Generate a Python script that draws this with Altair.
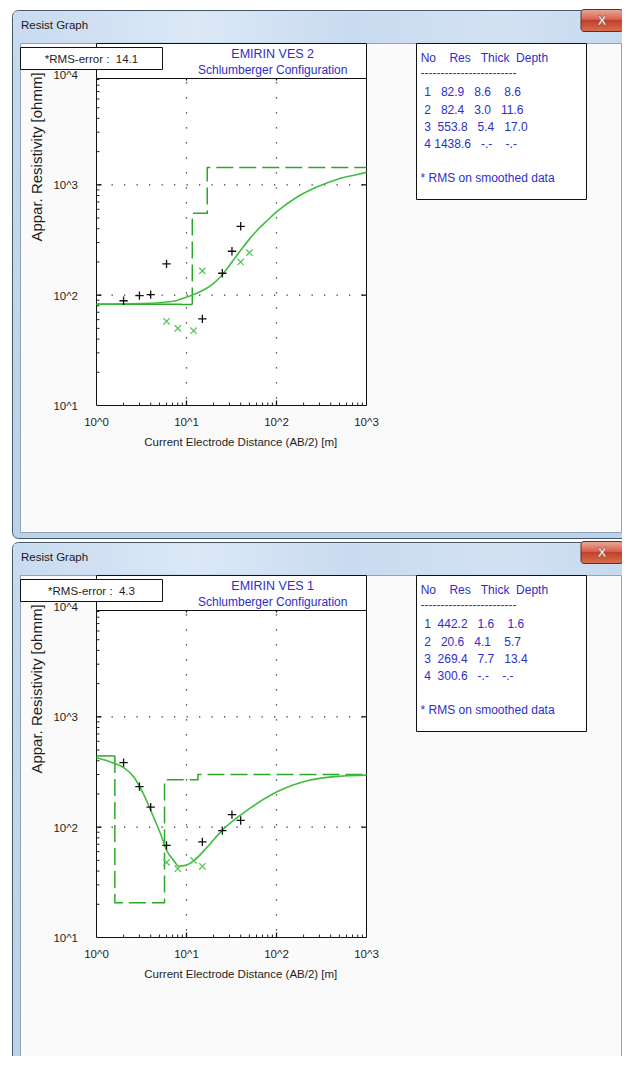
import math
import altair as alt
import pandas as pd

FONT = "Liberation Sans"
TXT = "#1e1e1e"
BLUE = "#2e2ec8"
GREEN_STEP = "#2aa82a"
GREEN_FIT = "#3fbd3f"
GREEN_X = "#55c955"
NB = "\u00a0"

# ---------------- data ----------------
window_title = "Resist Graph"
config_name = "Schlumberger Configuration"
x_title = "Current Electrode Distance (AB/2) [m]"
y_title = "Appar. Resistivity [ohmm]"
rms_note = "* RMS on smoothed data"
table_header = "No    Res   Thick  Depth"

x_ticks = [1, 10, 100, 1000]
x_tick_labels = ["10^0", "10^1", "10^2", "10^3"]
y_ticks = [10, 100, 1000, 10000]
y_tick_labels = ["10^1", "10^2", "10^3", "10^4"]

# EMIRIN VES 2 (upper window)
ves2_name = "EMIRIN VES 2"
ves2_rms = "14.1"
ves2_res = [82.9, 82.4, 553.8, 1438.6]
ves2_thick = [8.6, 3.0, 5.4]
ves2_depth = [8.6, 11.6, 17.0]
ves2_obs_ab2 = [2, 3, 4, 6, 15, 25, 32, 40]
ves2_obs_rho = [89, 99, 101, 192, 61, 158, 250, 421]
ves2_smooth_ab2 = [6, 8, 12, 15, 40, 50]
ves2_smooth_rho = [58, 50, 47.6, 166, 200, 243]
ves2_fit_ab2 = [1, 3, 5, 8, 10, 13, 16, 20, 25, 32, 40, 50, 63, 80, 100, 130, 170, 280, 460, 770, 1000]
ves2_fit_rho = [83, 84, 85.5, 90, 96, 104, 113, 128, 153, 200, 255, 322, 398, 480, 570, 670, 776, 955, 1114, 1236, 1297]

# EMIRIN VES 1 (lower window)
ves1_name = "EMIRIN VES 1"
ves1_rms = "4.3"
ves1_res = [442.2, 20.6, 269.4, 300.6]
ves1_thick = [1.6, 4.1, 7.7]
ves1_depth = [1.6, 5.7, 13.4]
ves1_obs_ab2 = [2, 3, 4, 6, 15, 25, 32, 40]
ves1_obs_rho = [385, 233, 152, 68.4, 73.5, 93, 130, 115]
ves1_smooth_ab2 = [6, 8, 12, 15]
ves1_smooth_rho = [48, 42, 50, 44.2]
ves1_fit_ab2 = [1, 1.43, 2, 2.6, 3.3, 4.3, 5.3, 6, 7.2, 8.2, 10, 12, 17, 25, 50, 100, 230, 550, 1000]
ves1_fit_rho = [425, 390, 347, 285, 202, 124, 82, 62, 50, 44.3, 45.3, 49.5, 66, 94, 147, 208, 266, 291, 296]

x_minor = [m * 10 ** k for k in range(0, 3) for m in range(2, 10)]
y_minor = [m * 10 ** k for k in range(1, 4) for m in range(2, 10)]

# ---------------- helpers ----------------
dummy = pd.DataFrame({"d": [0]})


def P(v):
    return v - 8  # page pixel -> chart pixel


def nb(s):
    return s.replace(" ", NB)


def box(x1, y1, x2, y2, fill, stroke=None, sw=1.0, radius=0):
    kw = dict(fill=fill, cornerRadius=radius)
    if stroke:
        kw["stroke"] = stroke
        kw["strokeWidth"] = sw
    else:
        kw["strokeWidth"] = 0
    return alt.Chart(dummy).mark_rect(**kw).encode(
        x=alt.value(P(x1)), x2=alt.value(P(x2)), y=alt.value(P(y1)), y2=alt.value(P(y2))
    )


def txt(x, y, s, size=12, color=TXT, align="left", baseline="middle", angle=0,
        weight="normal", lh=None):
    kw = dict(text=s, fontSize=size, color=color, align=align, baseline=baseline,
              font=FONT, fontWeight=weight)
    if angle:
        kw["angle"] = angle
    if lh:
        kw["lineHeight"] = lh
    return alt.Chart(dummy).mark_text(**kw).encode(x=alt.value(P(x)), y=alt.value(P(y)))


def grad(stops, vertical=True):
    return alt.LinearGradient(
        gradient="linear",
        stops=[alt.GradientStop(offset=o, color=c) for o, c in stops],
        x1=0, y1=0, x2=0 if vertical else 1, y2=1 if vertical else 0,
    )


def step_points(res, depth):
    xs_, ys_ = [], []
    x0 = 1
    for r, x1 in zip(res, depth + [1000]):
        xs_ += [x0, x1]
        ys_ += [r, r]
        x0 = x1
    return xs_, ys_


def window(off, name, rms, res, thick, depth, obs_x, obs_y, sm_x, sm_y, fit_x, fit_y):
    L, R, B, T = 96.5, 366.5, 405.5 + off, 74.5 + off
    xs = alt.Scale(type="log", domain=[1, 1000], range=[P(L), P(R)], nice=False)
    ys = alt.Scale(type="log", domain=[10, 10000], range=[P(B), P(T)], nice=False)

    def X(f):
        return alt.X(f"{f}:Q", scale=xs, axis=None)

    def Y(f):
        return alt.Y(f"{f}:Q", scale=ys, axis=None)

    layers = []
    # ---- window chrome ----
    layers.append(box(12.5, 10.5 + off, 628.5, 538.5 + off,
                      grad([(0, "#d3e2f3"), (0.08, "#c6d9ef"), (1, "#bcd1ea")]),
                      stroke="#46566a", radius=6))
    layers.append(box(14, 12 + off, 627, 42 + off,
                      grad([(0, "#c8dbf0"), (0.3, "#dce8f6"), (0.55, "#c9dbf0"),
                            (0.8, "#d3e2f3"), (1, "#c6d9ef")], vertical=False)))
    layers.append(box(20.5, 43.5 + off, 621.5, 532.5 + off, "#fafafa", stroke="#8fa3b9"))
    layers.append(box(581, 9.5 + off, 623, 31.5 + off,
                      grad([(0, "#eaa999"), (0.45, "#d5634f"), (0.5, "#c2402a"), (1, "#d8704f")]),
                      stroke="#6b2a20", radius=3))
    layers.append(alt.Chart(dummy).mark_text(
        text="X", fontSize=13, font=FONT, fontWeight="bold", color="white",
        stroke="#7a3025", strokeWidth=0.4, align="center", baseline="middle"
    ).encode(x=alt.value(P(602)), y=alt.value(P(20.5 + off))))
    layers.append(txt(21, 26 + off, window_title, size=11.5, color="#1a1a1a"))

    # ---- plot area ----
    layers.append(box(L, T, R, B, "white"))
    gx = pd.DataFrame({"g": [10, 100]})
    gy = pd.DataFrame({"g": [100, 1000]})
    layers.append(alt.Chart(gx).mark_rule(color="#333333", strokeWidth=1.3,
                                          strokeDash=[1.3, 13.7], strokeDashOffset=7.3).encode(
        x=X("g"), y=alt.value(P(T)), y2=alt.value(P(B))))
    layers.append(alt.Chart(gy).mark_rule(color="#333333", strokeWidth=1.3,
                                          strokeDash=[1.3, 11.2], strokeDashOffset=10).encode(
        y=Y("g"), x=alt.value(P(L)), x2=alt.value(P(R))))
    # ticks
    ymaj = pd.DataFrame({"t": [100, 1000]})
    xmaj = pd.DataFrame({"t": [10, 100]})
    layers.append(alt.Chart(pd.DataFrame({"t": y_minor})).mark_rule(color="#222", strokeWidth=1).encode(
        y=Y("t"), x=alt.value(P(L)), x2=alt.value(P(L + 3))))
    layers.append(alt.Chart(pd.DataFrame({"t": x_minor})).mark_rule(color="#222", strokeWidth=1).encode(
        x=X("t"), y=alt.value(P(B)), y2=alt.value(P(B - 3))))
    layers.append(alt.Chart(ymaj).mark_rule(color="#111", strokeWidth=1.3).encode(
        y=Y("t"), x=alt.value(P(L)), x2=alt.value(P(L + 5))))
    layers.append(alt.Chart(ymaj).mark_rule(color="#111", strokeWidth=1.3).encode(
        y=Y("t"), x=alt.value(P(R - 5)), x2=alt.value(P(R))))
    layers.append(alt.Chart(xmaj).mark_rule(color="#111", strokeWidth=1.3).encode(
        x=X("t"), y=alt.value(P(B)), y2=alt.value(P(B - 5))))
    layers.append(alt.Chart(xmaj).mark_rule(color="#111", strokeWidth=1.3).encode(
        x=X("t"), y=alt.value(P(T)), y2=alt.value(P(T + 6))))
    layers.append(box(L, T, R, B, "transparent", stroke="#111", sw=1))

    # ---- layered model (step) ----
    sx, sy = step_points(res, depth)
    k = 0
    while k + 1 < len(res) and abs(math.log10(res[k + 1] / res[k])) < 0.05:
        k += 1
    n_solid = 2 * (k + 1)
    solid = pd.DataFrame({"x": sx[:n_solid], "y": sy[:n_solid], "i": range(n_solid)})
    dashed = pd.DataFrame({"x": sx[n_solid - 1:], "y": sy[n_solid - 1:],
                           "i": range(len(sx) - n_solid + 1)})
    layers.append(alt.Chart(solid).mark_line(color=GREEN_STEP, strokeWidth=1.5).encode(
        x=X("x"), y=Y("y"), order="i:Q"))
    layers.append(alt.Chart(dashed).mark_line(color=GREEN_STEP, strokeWidth=1.5,
                                              strokeDash=[17, 6]).encode(
        x=X("x"), y=Y("y"), order="i:Q"))
    # ---- fitted curve ----
    fit = pd.DataFrame({"x": fit_x, "y": fit_y, "i": range(len(fit_x))})
    layers.append(alt.Chart(fit).mark_line(color=GREEN_FIT, strokeWidth=1.6,
                                           interpolate="monotone").encode(
        x=X("x"), y=Y("y"), order="i:Q"))
    # ---- smoothed data (x) ----
    sm = pd.DataFrame({"x": sm_x, "y": sm_y})
    layers.append(alt.Chart(sm).mark_point(shape="M-1,-1L1,1M-1,1L1,-1", size=40, filled=False,
                                           color=GREEN_X, strokeWidth=1.3, opacity=1).encode(
        x=X("x"), y=Y("y")))
    # ---- observed data (+) ----
    ob = pd.DataFrame({"x": obs_x, "y": obs_y})
    layers.append(alt.Chart(ob).mark_point(shape="M-1,0L1,0M0,-1L0,1", size=70, filled=False,
                                           color="#111111", strokeWidth=1.3, opacity=1).encode(
        x=X("x"), y=Y("y")))

    # ---- title box & rms box ----
    layers.append(box(L, 43.5 + off, R, 78.5 + off, "white", stroke="#111"))
    layers.append(txt(272.7, 53.5 + off, name, size=12.5, color=BLUE, align="center"))
    layers.append(txt(272.7, 69.5 + off, config_name, size=12, color=BLUE, align="center"))
    layers.append(box(20.5, 47.5 + off, 162.5, 69.5 + off, "white", stroke="#111"))
    layers.append(txt(91.5, 59.5 + off, nb("*RMS-error :  " + rms), size=11.5, align="center"))

    # ---- axis labels ----
    layers.append(alt.Chart(pd.DataFrame({"v": x_ticks, "lab": x_tick_labels})).mark_text(
        fontSize=11.5, font=FONT, color=TXT, baseline="middle", align="center").encode(
        x=X("v"), y=alt.value(P(422.5 + off)), text="lab:N"))
    layers.append(alt.Chart(pd.DataFrame({"v": y_ticks, "lab": y_tick_labels})).mark_text(
        fontSize=11.5, font=FONT, color=TXT, baseline="middle", align="center", dy=1.5).encode(
        y=Y("v"), x=alt.value(P(65.7)), text="lab:N"))
    layers.append(txt(240.8, 443.3 + off, x_title, size=11.5, align="center"))
    layers.append(txt(36.7, 157 + off, y_title, size=15, align="center", angle=270))

    # ---- layer table ----
    layers.append(box(416.5, 43.5 + off, 586.5, 199.5 + off, "white", stroke="#111"))
    layers.append(txt(420.7, 61.5 + off, nb(table_header), color=BLUE, baseline="alphabetic"))
    layers.append(txt(420.5, 77.2 + off, "-" * 24, color=BLUE, baseline="alphabetic"))
    thick_col = [f"{t:.1f}" for t in thick] + ["-.-"]
    depth_col = [f"{d:.1f}" for d in depth] + ["-.-"]
    rows = [nb(f"{i + 1} {r:>6.1f} {t:>5} {d:>6}")
            for i, (r, t, d) in enumerate(zip(res, thick_col, depth_col))]
    layers.append(txt(424.2, 96.3 + off, rows, color=BLUE, align="left",
                      baseline="alphabetic", lh=17.4))
    layers.append(txt(420.5, 182.3 + off, rms_note, color=BLUE, baseline="alphabetic"))
    return alt.layer(*layers)


top = window(0, ves2_name, ves2_rms, ves2_res, ves2_thick, ves2_depth,
             ves2_obs_ab2, ves2_obs_rho, ves2_smooth_ab2, ves2_smooth_rho,
             ves2_fit_ab2, ves2_fit_rho)
bottom = window(532, ves1_name, ves1_rms, ves1_res, ves1_thick, ves1_depth,
                ves1_obs_ab2, ves1_obs_rho, ves1_smooth_ab2, ves1_smooth_rho,
                ves1_fit_ab2, ves1_fit_rho)

chart = alt.layer(top, bottom).resolve_scale(y="independent").properties(
    width=614, height=1048,
    autosize=alt.AutoSizeParams(type="none"),
    padding=0,
    background="white",
).configure_view(stroke=None)

chart.save("out.html", embed_options={"renderer": "svg", "actions": False})
